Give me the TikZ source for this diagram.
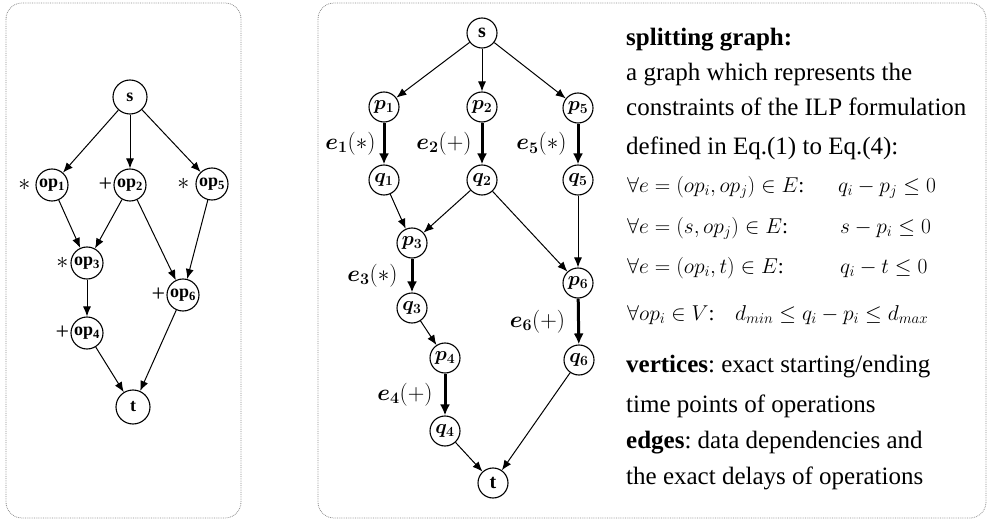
\RequirePackage{fix-cm}
\documentclass[tikz,border=0pt]{standalone}
\usepackage{amsmath,bm}
\usepackage{fontspec}
\setmainfont{Liberation Serif}
\usetikzlibrary{arrows.meta}
\frenchspacing
\begin{document}
\begin{tikzpicture}[x=1pt,y=-1pt,
  panel/.style={draw=black!45,densely dotted,line width=0.8pt,rounded corners=16pt},
  lnode/.style={circle,draw,line width=1.1pt,inner sep=0pt,minimum size=32pt,font=\fontsize{18}{18}\selectfont\bfseries},
  rnode/.style={circle,draw,line width=1.1pt,inner sep=0pt,minimum size=30pt,font=\fontsize{20}{20}\selectfont},
  arr/.style={line width=1pt,-{Latex[length=10pt,width=8pt]}},
  karr/.style={line width=3pt,-{Latex[length=11pt,width=10pt]}},
  sign/.style={inner sep=0pt,anchor=east,font=\fontsize{24}{24}\selectfont},
  elab/.style={inner sep=0pt,font=\fontsize{23}{23}\selectfont},
  txt/.style={inner sep=0pt,anchor=mid west,font=\fontsize{25}{25}\selectfont},
  mth/.style={inner sep=0pt,anchor=mid west,font=\fontsize{21.5}{21.5}\selectfont}]
\useasboundingbox (0,0) rectangle (989,524);
% panels
\draw[panel] (6,3) rectangle (241,518);
\draw[panel] (318,3) rectangle (986,518);
% ---------- left graph ----------
\node[lnode,minimum size=34pt] (ls) at (130,97) {s};
\node[lnode] (op1) at (52,185) {op\textsubscript{1}};
\node[lnode] (op2) at (130,185) {op\textsubscript{2}};
\node[lnode] (op5) at (212,184) {op\textsubscript{5}};
\node[lnode] (op3) at (87,263) {op\textsubscript{3}};
\node[lnode] (op6) at (183,295) {op\textsubscript{6}};
\node[lnode] (op4) at (87,333) {op\textsubscript{4}};
\node[lnode,minimum size=34pt] (lt) at (133,407) {t};
\node[sign] (sg1) at ([xshift=-5pt]op1.west) {$\ast$};
\node[sign] (sg2) at ([xshift=-1pt]op2.west) {+};
\node[sign] (sg5) at ([xshift=-6pt]op5.west) {$\ast$};
\node[sign] (sg3) at ([xshift=-2pt]op3.west) {$\ast$};
\node[sign] (sg6) at ([xshift=-1pt]op6.west) {+};
\node[sign] (sg4) at ([xshift=-1pt]op4.west) {+};
\draw[arr] (ls) -- (op1);
\draw[arr] (ls) -- (op2);
\draw[arr] (ls) -- (op5);
\draw[arr] (op1) -- (op3);
\draw[arr] (op2) -- (op3);
\draw[arr] (op2) -- (op6);
\draw[arr] (op5) -- (op6);
\draw[arr] (op3) -- (op4);
\draw[arr] (op4) -- (lt);
\draw[arr] (op6) -- (lt);
% ---------- right graph ----------
\node[rnode] (rs) at (482,33) {\textbf{s}};
\node[rnode] (p1) at (384,107) {$\bm{p_1}$};
\node[rnode] (p2) at (482,107) {$\bm{p_2}$};
\node[rnode] (p5) at (578,108) {$\bm{p_5}$};
\node[rnode] (q1) at (384,180) {$\bm{q_1}$};
\node[rnode] (q2) at (482,180) {$\bm{q_2}$};
\node[rnode] (q5) at (578,180) {$\bm{q_5}$};
\node[rnode] (p3) at (412,243) {$\bm{p_3}$};
\node[rnode] (q3) at (412,308) {$\bm{q_3}$};
\node[rnode] (p4) at (445,358) {$\bm{p_4}$};
\node[rnode] (q4) at (445,431) {$\bm{q_4}$};
\node[rnode] (p6) at (578,283) {$\bm{p_6}$};
\node[rnode] (q6) at (579,360) {$\bm{q_6}$};
\node[rnode] (rt) at (493,483) {\textbf{t}};
\draw[arr] (rs) -- (p1);
\draw[arr] (rs) -- (p2);
\draw[arr] (rs) -- (p5);
\draw[karr] (p1) -- (q1) node[elab,midway,left=7pt] {$\bm{e_1}(*)$};
\draw[karr] (p2) -- (q2) node[elab,midway,left=9pt] {$\bm{e_2}(+)$};
\draw[karr] (p5) -- (q5) node[elab,midway,left=10pt] {$\bm{e_5}(*)$};
\draw[karr] (p3) -- (q3) node[elab,midway,left=13pt] {$\bm{e_3}(*)$};
\draw[karr] (p4) -- (q4) node[elab,midway,left=11pt] {$\bm{e_4}(+)$};
\draw[karr] (p6) -- (q6) node[elab,midway,left=12pt] {$\bm{e_6}(+)$};
\draw[arr] (q1) -- (p3);
\draw[arr] (q2) -- (p3);
\draw[arr] (q2) -- (p6);
\draw[arr] (q5) -- (p6);
\draw[arr] (q3) -- (p4);
\draw[arr] (q4) -- (rt);
\draw[arr] (q6) -- (rt);
% ---------- text ----------
\node[txt] (t1) at (626,43) {\textbf{splitting graph:}};
\node[txt] (t2) at (626,78) {a graph which represents the};
\node[txt] (t3) at (626,113) {constraints of the ILP formulation};
\node[txt] (t4) at (626,152) {defined in Eq.(1) to Eq.(4):};
\node[mth] (m1) at (627,190) {$\forall e=\left(op_i,op_j\right)\in E$:};
\node[mth] (m1r) at (838,190) {$q_i-p_j\le 0$};
\node[mth] (m2) at (627,231) {$\forall e=\left(s,op_j\right)\in E$:};
\node[mth] (m2r) at (840,231) {$s-p_i\le 0$};
\node[mth] (m3) at (627,271) {$\forall e=(op_i,t)\in E$:};
\node[mth] (m3r) at (840,271) {$q_i-t\le 0$};
\node[mth] (m4) at (627,318) {$\forall op_i\in V$:};
\node[mth] (m4r) at (735,318) {$d_{min}\le q_i-p_i\le d_{max}$};
\node[txt] (t5) at (626,370) {\textbf{vertices}: exact starting/ending};
\node[txt] (t6) at (626,410) {time points of operations};
\node[txt] (t7) at (626,446) {\textbf{edges}: data dependencies and};
\node[txt] (t8) at (626,482) {the exact delays of operations};
\end{tikzpicture}
\end{document}
